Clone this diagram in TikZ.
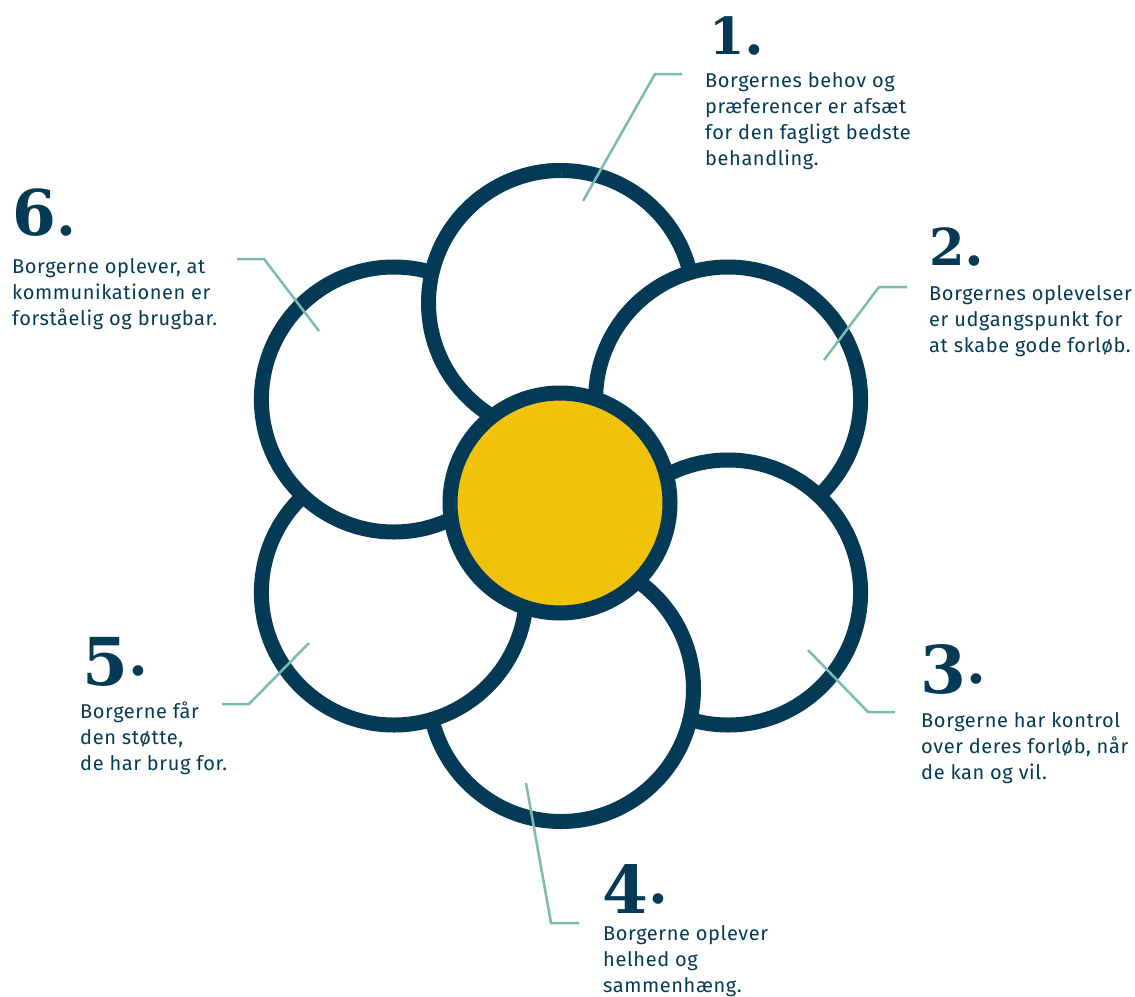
\documentclass[tikz,border=0pt]{standalone}
\usepackage{fontspec}
\setmainfont{Fira Sans}[LetterSpace=3]
\newfontfamily\numfont{DejaVu Serif}
\definecolor{navy}{RGB}{4,58,85}
\definecolor{sun}{RGB}{240,194,10}
\definecolor{leaf}{RGB}{122,188,175}

% figures: short ones sit on the baseline, tall ones rise, low ones descend
\newcommand\shortfig[1]{{\fontsize{51}{51}\selectfont #1}}
\newcommand\tallfig[1]{{\fontsize{63}{63}\selectfont #1}}
\newcommand\lowfig[1]{{\fontsize{66}{66}\selectfont\raisebox{-10pt}{#1}}}
\newcommand\figdot{{\fontsize{57}{57}\selectfont .}}

\tikzset{
  petal/.style={draw=navy, line width=15pt, fill=white},
  heart/.style={draw=navy, line width=15pt, fill=sun},
  leader/.style={draw=leaf, line width=2.5pt},
  caption/.style={anchor=base west, inner sep=0pt, text=navy,
    font=\fontsize{20}{26}\selectfont},
  numlabel/.style={anchor=base west, inner sep=0pt, text=navy,
    font=\numfont\bfseries},
}

\begin{document}
\begin{tikzpicture}[x=1pt, y=-1pt]
\useasboundingbox (0,0) rectangle (1135,996);

% petal centres around the flower
\coordinate (c1) at (561,303);
\coordinate (c2) at (728.1,399.5);
\coordinate (c3) at (728.1,592.5);
\coordinate (c4) at (561,689);
\coordinate (c5) at (393.9,592.5);
\coordinate (c6) at (393.9,399.5);
\coordinate (hub) at (560,503);

% petals, each one tucked under the next
\foreach \i in {1,...,6} {
  \path[petal] (c\i) circle[radius=132.5];
}
% the first petal again, over the sixth on its left side
\begin{scope}
  \clip (0,0) rectangle (561,996);
  \path[petal] (c1) circle[radius=132.5];
\end{scope}

% centre of the flower
\path[heart] (hub) circle[radius=110];

% numbers
\node[numlabel] (n1) at (709,54)  {\shortfig{1}\figdot};
\node[numlabel] (n2) at (929,265) {\shortfig{2}\figdot};
\node[numlabel] (n3) at (920,683) {\lowfig{3}\figdot};
\node[numlabel] (n4) at (602,903) {\lowfig{4}\figdot};
\node[numlabel] (n5) at (82,675)  {\lowfig{5}\figdot};
\node[numlabel] (n6) at (12,235)  {\tallfig{6}\figdot};

% captions
\node[caption] (t1) at (705,87) {\begin{tabular}[t]{@{}l@{}}Borgernes behov og\\præferencer er afsæt\\for den fagligt bedste\\behandling.\end{tabular}};
\node[caption] (t2) at (929,300) {\begin{tabular}[t]{@{}l@{}}Borgernes oplevelser\\er udgangspunkt for\\at skabe gode forløb.\end{tabular}};
\node[caption] (t3) at (921,727) {\begin{tabular}[t]{@{}l@{}}Borgerne har kontrol\\over deres forløb, når\\de kan og vil.\end{tabular}};
\node[caption] (t4) at (603,940) {\begin{tabular}[t]{@{}l@{}}Borgerne oplever\\helhed og\\sammenhæng.\end{tabular}};
\node[caption] (t5) at (80,718) {\begin{tabular}[t]{@{}l@{}}Borgerne får\\den støtte,\\de har brug for.\end{tabular}};
\node[caption] (t6) at (12,273) {\begin{tabular}[t]{@{}l@{}}Borgerne oplever, at\\kommunikationen er\\forståelig og brugbar.\end{tabular}};

% leader lines from the petals to their captions
\coordinate (a1) at (583,201); \coordinate (b1) at (655,74);  \coordinate (e1) at (682,74);
\coordinate (a2) at (824,360); \coordinate (b2) at (879,287); \coordinate (e2) at (907,287);
\coordinate (a3) at (808,650); \coordinate (b3) at (868,712); \coordinate (e3) at (895,712);
\coordinate (a4) at (526,783); \coordinate (b4) at (551,923); \coordinate (e4) at (579,923);
\coordinate (a5) at (309,643); \coordinate (b5) at (249,704); \coordinate (e5) at (222,704);
\coordinate (a6) at (319,331); \coordinate (b6) at (264,259); \coordinate (e6) at (237,259);
\foreach \i in {1,...,6} {
  \draw[leader] (a\i) -- (b\i) -- (e\i);
}
\end{tikzpicture}
\end{document}
